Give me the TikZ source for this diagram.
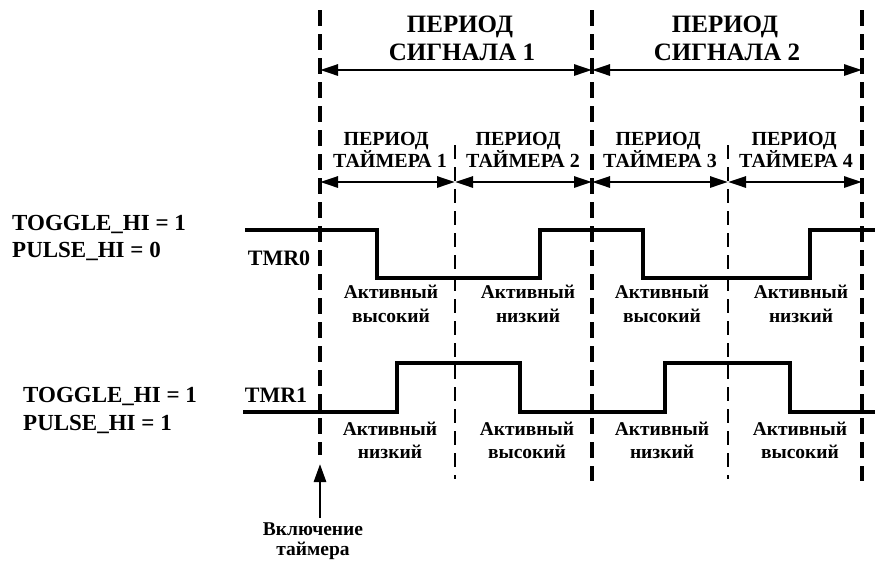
\documentclass[tikz,border=0pt]{standalone}
\usepackage{fontspec}
\setmainfont{Liberation Serif}
\usetikzlibrary{arrows.meta}

\tikzset{
  boundary/.style={line width=3.5pt, dash pattern=on 16pt off 8pt},
  subbound/.style={line width=1.6pt, dash pattern=on 14pt off 8pt},
  wave/.style={line width=4pt, line join=miter},
  span/.style={line width=2.8pt, {Triangle[length=18pt,width=11pt]}-{Triangle[length=18pt,width=11pt]}},
  start/.style={line width=2.8pt, -{Triangle[length=18pt,width=12pt]}},
  siglbl/.style={anchor=base, inner sep=0pt, font=\fontsize{25}{28}\selectfont\bfseries},
  tmrlbl/.style={anchor=base, inner sep=0pt, font=\fontsize{20}{24}\selectfont\bfseries},
  actlbl/.style={anchor=base, inner sep=0pt, font=\fontsize{19.5}{22}\selectfont\bfseries},
  cfglbl/.style={anchor=base west, inner sep=0pt, font=\fontsize{23}{26}\selectfont\bfseries},
  chlbl/.style={anchor=base, inner sep=0pt, font=\fontsize{22}{26}\selectfont\bfseries},
  onlbl/.style={anchor=base, inner sep=0pt, font=\fontsize{19.5}{22}\selectfont\bfseries}
}

\begin{document}
\begin{tikzpicture}[x=1pt, y=-1pt]
  \useasboundingbox (0, 0) rectangle (875, 563);

  % signal period boundaries
  \coordinate (b0t) at (320, 10);  \coordinate (b0b) at (320, 455);
  \coordinate (b1t) at (592, 10);  \coordinate (b1b) at (592, 481);
  \coordinate (b2t) at (862, 10);  \coordinate (b2b) at (862, 481);
  \draw[boundary] (b0t) -- (b0b);
  \draw[boundary] (b1t) -- (b1b);
  \draw[boundary] (b2t) -- (b2b);

  % timer period boundaries
  \coordinate (h0t) at (455, 145);  \coordinate (h0b) at (455, 479);
  \coordinate (h1t) at (728, 145);  \coordinate (h1b) at (728, 479);
  \draw[subbound] (h0t) -- (h0b);
  \draw[subbound] (h1t) -- (h1b);

  % signal periods
  \coordinate (s0) at (320, 70);
  \coordinate (s1) at (592, 70);
  \coordinate (s2) at (862, 70);
  \draw[span] (s0) -- (s1);
  \draw[span] (s1) -- (s2);

  \node[siglbl] (sig1a) at (460, 32) {ПЕРИОД};
  \node[siglbl] (sig1b) at (462, 60) {СИГНАЛА 1};
  \node[siglbl] (sig2a) at (725, 32) {ПЕРИОД};
  \node[siglbl] (sig2b) at (727, 60) {СИГНАЛА 2};

  % timer periods
  \coordinate (t0) at (320, 182);
  \coordinate (t1) at (455, 182);
  \coordinate (t2) at (592, 182);
  \coordinate (t3) at (728, 182);
  \coordinate (t4) at (862, 182);
  \draw[span] (t0) -- (t1);
  \draw[span] (t1) -- (t2);
  \draw[span] (t2) -- (t3);
  \draw[span] (t3) -- (t4);

  \node[tmrlbl] (tm1a) at (386, 145) {ПЕРИОД};
  \node[tmrlbl] (tm1b) at (390, 167) {ТАЙМЕРА 1};
  \node[tmrlbl] (tm2a) at (518, 145) {ПЕРИОД};
  \node[tmrlbl] (tm2b) at (523, 167) {ТАЙМЕРА 2};
  \node[tmrlbl] (tm3a) at (658, 145) {ПЕРИОД};
  \node[tmrlbl] (tm3b) at (660, 167) {ТАЙМЕРА 3};
  \node[tmrlbl] (tm4a) at (794, 145) {ПЕРИОД};
  \node[tmrlbl] (tm4b) at (796, 167) {ТАЙМЕРА 4};

  % TMR0
  \node[cfglbl] (cfg0a) at (12, 230) {TOGGLE\_HI = 1};
  \node[cfglbl] (cfg0b) at (12, 257) {PULSE\_HI = 0};
  \node[chlbl] (tmr0) at (279, 265) {TMR0};
  \draw[wave] (245, 230) -| (377, 278) -| (540, 230) -| (643, 278) -| (810, 230) -- (875, 230);

  \node[actlbl] (a01) at (391, 298) {Активный};
  \node[actlbl] (a01b) at (391, 322) {высокий};
  \node[actlbl] (a02) at (528, 298) {Активный};
  \node[actlbl] (a02b) at (528, 322) {низкий};
  \node[actlbl] (a03) at (662, 298) {Активный};
  \node[actlbl] (a03b) at (662, 322) {высокий};
  \node[actlbl] (a04) at (801, 298) {Активный};
  \node[actlbl] (a04b) at (801, 322) {низкий};

  % TMR1
  \node[cfglbl] (cfg1a) at (23, 402) {TOGGLE\_HI = 1};
  \node[cfglbl] (cfg1b) at (23, 430) {PULSE\_HI = 1};
  \node[chlbl] (tmr1) at (276, 402) {TMR1};
  \draw[wave] (243, 412) -| (397, 363) -| (520, 412) -| (665, 363) -| (790, 412) -- (875, 412);

  \node[actlbl] (a11) at (390, 435) {Активный};
  \node[actlbl] (a11b) at (390, 458) {низкий};
  \node[actlbl] (a12) at (527, 435) {Активный};
  \node[actlbl] (a12b) at (527, 458) {высокий};
  \node[actlbl] (a13) at (662, 435) {Активный};
  \node[actlbl] (a13b) at (662, 458) {низкий};
  \node[actlbl] (a14) at (800, 435) {Активный};
  \node[actlbl] (a14b) at (800, 458) {высокий};

  % timer enable
  \node[onlbl] (on) at (313, 535) {Включение};
  \node[onlbl] (onb) at (313, 555) {таймера};
  \coordinate (onbase) at (320, 518);
  \coordinate (ontip) at (320, 464);
  \draw[start] (onbase) -- (ontip);
\end{tikzpicture}
\end{document}
